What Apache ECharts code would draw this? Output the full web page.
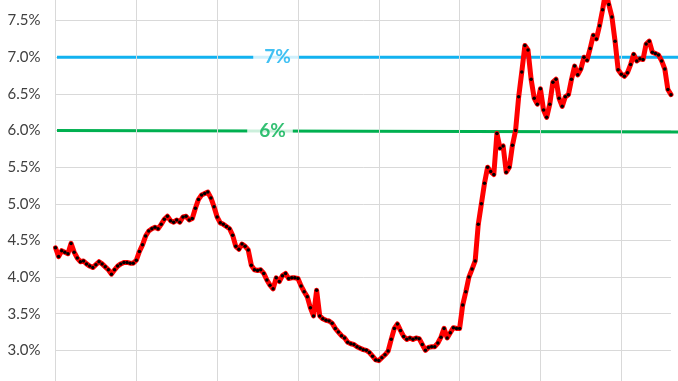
<!DOCTYPE html>
<html>
<head>
<meta charset="utf-8">
<script src="https://cdn.jsdelivr.net/npm/echarts@6/dist/echarts.min.js"></script>
<style>
html,body{margin:0;padding:0;background:#fff;overflow:hidden;width:678px;height:381px;}
#chart{position:absolute;left:0;top:-16px;width:678px;height:403px;}
</style>
</head>
<body>
<div id="chart"></div>
<script>
// Bi-weekly 30-year mortgage rate readings (%), one array per calendar year
const rates2017 = [4.40,4.28,4.36,4.34,4.32,4.46,4.34,4.26,4.21,4.22,4.18,4.15,4.13,4.17,4.21,4.18,4.14,4.10,4.04,4.10,4.15,4.18,4.20,4.20,4.19,4.19];
const rates2018 = [4.23,4.35,4.44,4.56,4.63,4.66,4.68,4.66,4.72,4.79,4.83,4.77,4.75,4.78,4.75,4.82,4.83,4.78,4.80,4.94,5.06,5.12,5.14,5.16,5.08,4.96];
const rates2019 = [4.82,4.74,4.72,4.69,4.66,4.57,4.42,4.38,4.45,4.42,4.37,4.16,4.10,4.09,4.10,4.05,3.96,3.89,3.84,3.99,3.94,4.02,4.05,3.98,3.99,3.99];
const rates2020 = [3.98,3.88,3.80,3.73,3.58,3.47,3.82,3.47,3.43,3.41,3.40,3.37,3.30,3.25,3.20,3.17,3.11,3.09,3.08,3.05,3.03,3.01,3.00,2.97,2.92,2.87];
const rates2021 = [2.86,2.90,2.94,2.99,3.15,3.30,3.36,3.27,3.19,3.15,3.17,3.15,3.17,3.16,3.08,3.00,3.04,3.05,3.05,3.10,3.18,3.30,3.17,3.24,3.31,3.30];
const rates2022 = [3.30,3.62,3.80,4.00,4.11,4.22,4.72,5.00,5.28,5.50,5.44,5.40,5.96,5.76,5.79,5.43,5.50,5.80,6.00,6.46,6.80,7.16,7.10,6.70,6.44,6.36];
const rates2023 = [6.57,6.28,6.18,6.36,6.66,6.70,6.44,6.33,6.46,6.49,6.70,6.88,6.76,6.84,7.00,6.96,7.12,7.30,7.25,7.43,7.65,7.90,7.72,7.55,7.22,6.83];
const rates2024 = [6.77,6.74,6.79,6.90,7.04,6.95,6.98,6.97,7.18,7.22,7.07,7.05,7.03,6.95,6.84,6.56,6.49];
const yearStarts = [2017,2018,2019,2020,2021,2022,2023,2024];
const perYear = 26; // readings per year
const yTicks = [2.5, 8.0, 0.5]; // min, max, step
const refValues = [7.0, 6.0];
const refLabels = ['7%', '6%'];

const yearly = [rates2017,rates2018,rates2019,rates2020,rates2021,rates2022,rates2023,rates2024];
const points = [];
yearly.forEach((arr, yi) => {
  arr.forEach((v, i) => {
    points.push([yi * perYear + i, v]); // x = reading index; year boundaries every perYear
  });
});
const lastIndex = points.length - 1;
const yearLines = yearStarts.map((y, i) => ({xAxis: i * perYear}));

const chart = echarts.init(document.getElementById('chart'), null, {renderer: 'canvas'});
const FONT = 'Lato, "Open Sans", sans-serif';
chart.setOption({
  animation: false,
  backgroundColor: '#ffffff',
  grid: [
    {left: 55.5, right: 7, top: 0, bottom: 0, containLabel: false},
    {left: 57, right: 0, top: 0, bottom: 0, containLabel: false}
  ],
  xAxis: [
    {
      type: 'value', gridIndex: 0, min: 0, max: lastIndex,
      axisLine: {show: false}, axisTick: {show: false}, axisLabel: {show: false},
      splitLine: {show: false}
    },
    {
      type: 'value', gridIndex: 1, min: 0, max: 1, show: false
    }
  ],
  yAxis: [
    {
      type: 'value', gridIndex: 0, min: yTicks[0], max: yTicks[1], interval: yTicks[2],
      axisLine: {show: false}, axisTick: {show: false},
      axisLabel: {
        margin: 15, color: '#404040', fontSize: 15, fontFamily: FONT,
        showMinLabel: false, showMaxLabel: false,
        formatter: (v) => v.toFixed(1) + '%'
      },
      splitLine: {show: true, lineStyle: {color: '#d9d9d9', width: 1}}
    },
    {
      type: 'value', gridIndex: 1, min: yTicks[0], max: yTicks[1], show: false
    }
  ],
  series: [
    {
      // year boundary gridlines
      type: 'line', xAxisIndex: 0, yAxisIndex: 0, data: [], z: 1, silent: true,
      markLine: {
        silent: true, symbol: ['none', 'none'], label: {show: false},
        lineStyle: {color: '#d9d9d9', width: 1, type: 'solid'},
        emphasis: {disabled: true},
        data: yearLines
      }
    },
    {
      type: 'line', xAxisIndex: 1, yAxisIndex: 1, symbol: 'none', silent: true,
      data: [[0, refValues[0]], [1, refValues[0]]],
      lineStyle: {color: '#12B2F0', width: 3}, z: 2
    },
    {
      type: 'line', xAxisIndex: 1, yAxisIndex: 1, symbol: 'none', silent: true,
      data: [[0, refValues[1]], [1, refValues[1] - 0.02]],
      lineStyle: {color: '#00B050', width: 3}, z: 2
    },
    {
      type: 'scatter', xAxisIndex: 1, yAxisIndex: 1, symbolSize: 0, z: 4,
      data: [[0.3527, refValues[0]]],
      label: {
        show: true, position: 'inside', formatter: refLabels[0],
        color: '#12B2F0', fontSize: 19, fontWeight: 'bold', fontFamily: FONT,
        backgroundColor: '#ffffff', padding: [1, 8, 0, 11]
      }
    },
    {
      type: 'scatter', xAxisIndex: 1, yAxisIndex: 1, symbolSize: 0, z: 4,
      data: [[0.343, refValues[1]]],
      label: {
        show: true, position: 'inside', formatter: refLabels[1],
        color: '#00B050', fontSize: 19, fontWeight: 'bold', fontFamily: FONT,
        backgroundColor: '#ffffff', padding: [1, 7, 0, 12]
      }
    },
    {
      type: 'line', xAxisIndex: 0, yAxisIndex: 0, data: points, z: 5,
      showSymbol: true, showAllSymbol: true, symbol: 'circle', symbolSize: 3.5,
      itemStyle: {color: '#000000', borderWidth: 0},
      lineStyle: {color: '#FF0000', width: 5, join: 'round', cap: 'round'}
    }
  ]
});
</script>
</body>
</html>
